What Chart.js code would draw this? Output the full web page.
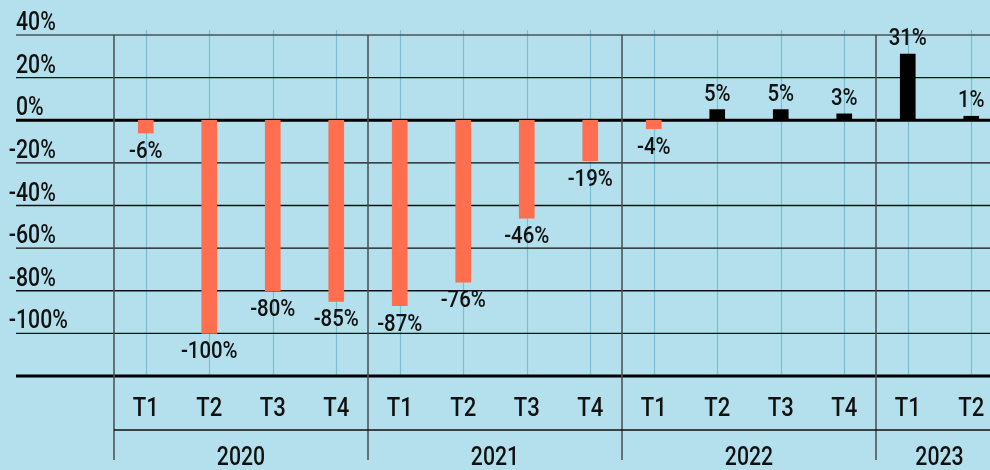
<!DOCTYPE html>
<html>
<head>
<meta charset="utf-8">
<script src="https://cdn.jsdelivr.net/npm/chart.js@4/dist/chart.umd.min.js"></script>
<style>
  html, body { margin: 0; padding: 0; background: #b3e0ec; overflow: hidden; }
  #wrap { width: 1010px; height: 470px; }
</style>
</head>
<body>
<div id="wrap"><canvas id="quarterChart" width="1010" height="470"></canvas></div>
<script>
var quarters = ['T1', 'T2', 'T3', 'T4', 'T1', 'T2', 'T3', 'T4', 'T1', 'T2', 'T3', 'T4', 'T1', 'T2'];
var years = ['2020', '2021', '2022', '2023'];
var quartersPerYear = [4, 4, 4, 2];
var changes = [-6, -100, -80, -85, -87, -76, -46, -19, -4, 5, 5, 3, 31, 1];
var yTicks = [40, 20, 0, -20, -40, -60, -80, -100, -120];

var FONT = 'Roboto, "DejaVu Sans Condensed", sans-serif';
var SQUEEZE = 0.85; // fake a condensed face

// draw squeezed text; align is 'left' | 'center' | 'right'
function narrowText(c, txt, x, y, align) {
    var w = c.measureText(txt).width * SQUEEZE;
    var left = align === 'center' ? x - w / 2 : (align === 'right' ? x - w : x);
    c.save();
    c.textAlign = 'left';
    c.scale(SQUEEZE, 1);
    c.fillText(txt, left / SQUEEZE, y);
    c.restore();
}

// extra lines and labels that chart.js doesn't do by itself
var decorations = {
    id: 'decorations',
    beforeDatasetsDraw: function(chart) {
        var c = chart.ctx, x = chart.scales.x, y = chart.scales.y, area = chart.chartArea;
        c.save();
        // thin blue line through each bar
        c.strokeStyle = '#7dbdd2';
        c.lineWidth = 1.2;
        quarters.forEach(function(q, i) {
            var px = Math.round(x.getPixelForValue(i)) + 0.5;
            c.beginPath();
            c.moveTo(px, area.top - 5);
            c.lineTo(px, area.bottom);
            c.stroke();
        });
        // horizontal lines, some of them heavier
        yTicks.forEach(function(v) {
            var py = y.getPixelForValue(v);
            c.beginPath();
            if (v === 0 || v === -120) {
                c.lineWidth = 3; c.strokeStyle = '#000';
            } else if (v === 40) {
                c.lineWidth = 1.5; c.strokeStyle = '#4a5559';
            } else {
                c.lineWidth = 1.4; c.strokeStyle = '#111';
            }
            c.moveTo(16, py);
            c.lineTo(chart.width, py);
            c.stroke();
        });
        // year separators
        c.strokeStyle = '#454c50';
        c.lineWidth = 1.5;
        var start = 0;
        for (var k = 0; k <= quartersPerYear.length; k++) {
            var px = x.getPixelForValue(start - 0.5);
            c.beginPath();
            c.moveTo(px, area.top);
            c.lineTo(px, 460);
            c.stroke();
            if (k < quartersPerYear.length) start += quartersPerYear[k];
        }
        c.strokeStyle = '#111';
        c.lineWidth = 1.5;
        c.beginPath();
        c.moveTo(x.getPixelForValue(-0.5), 430);
        c.lineTo(chart.width, 430);
        c.stroke();
        c.restore();
    },
    afterDatasetsDraw: function(chart) {
        var c = chart.ctx, x = chart.scales.x, y = chart.scales.y;
        c.save();
        c.fillStyle = '#111';
        c.font = '500 24px ' + FONT;
        // value labels
        changes.forEach(function(v, i) {
            var px = x.getPixelForValue(i);
            var py = y.getPixelForValue(v);
            if (v < 0) {
                c.textBaseline = 'top';
                narrowText(c, v + '%', px, py + 7, 'center');
            } else {
                c.textBaseline = 'bottom';
                narrowText(c, v + '%', px, Math.min(py, y.getPixelForValue(0) - 4) - 3, 'center');
            }
        });
        // quarter labels
        c.font = '500 26px ' + FONT;
        c.textBaseline = 'middle';
        quarters.forEach(function(q, i) {
            narrowText(c, q, x.getPixelForValue(i), 409, 'center');
        });
        // year labels
        c.font = '500 25px ' + FONT;
        var start = 0;
        years.forEach(function(yr, k) {
            var mid = (x.getPixelForValue(start - 0.5) + x.getPixelForValue(start + quartersPerYear[k] - 0.5)) / 2;
            narrowText(c, yr, mid, 459, 'center');
            start += quartersPerYear[k];
        });
        // y tick labels, sitting above the lines, minus sign hanging left
        c.font = '500 25px ' + FONT;
        c.textBaseline = 'alphabetic';
        var dash = c.measureText('-').width * SQUEEZE;
        yTicks.forEach(function(v) {
            if (v === -120) return;
            var lx = v < 0 ? 16 - dash : 16;
            narrowText(c, v + '%', lx, y.getPixelForValue(v) - 5, 'left');
        });
        c.restore();
    }
};

var ctx = document.getElementById('quarterChart').getContext('2d');
var quarterChart = new Chart(ctx, {
    type: 'bar',
    data: {
        labels: quarters,
        datasets: [{
            data: changes,
            backgroundColor: changes.map(function(v) { return v < 0 ? '#ff6e4e' : '#000000'; }),
            barThickness: 15,
            minBarLength: 4,
            borderWidth: 0
        }]
    },
    options: {
        responsive: false,
        animation: false,
        layout: { padding: { top: 35, right: 7, left: 0, bottom: 0 } },
        plugins: { legend: { display: false }, tooltip: { enabled: false } },
        scales: {
            x: {
                grid: { display: false },
                border: { display: false },
                ticks: { display: false },
                afterFit: function(s) { s.height = 94; }
            },
            y: {
                min: -120,
                max: 40,
                grid: { display: false },
                border: { display: false },
                ticks: { display: false, stepSize: 20 },
                afterFit: function(s) { s.width = 114; }
            }
        }
    },
    plugins: [decorations]
});
</script>
</body>
</html>
